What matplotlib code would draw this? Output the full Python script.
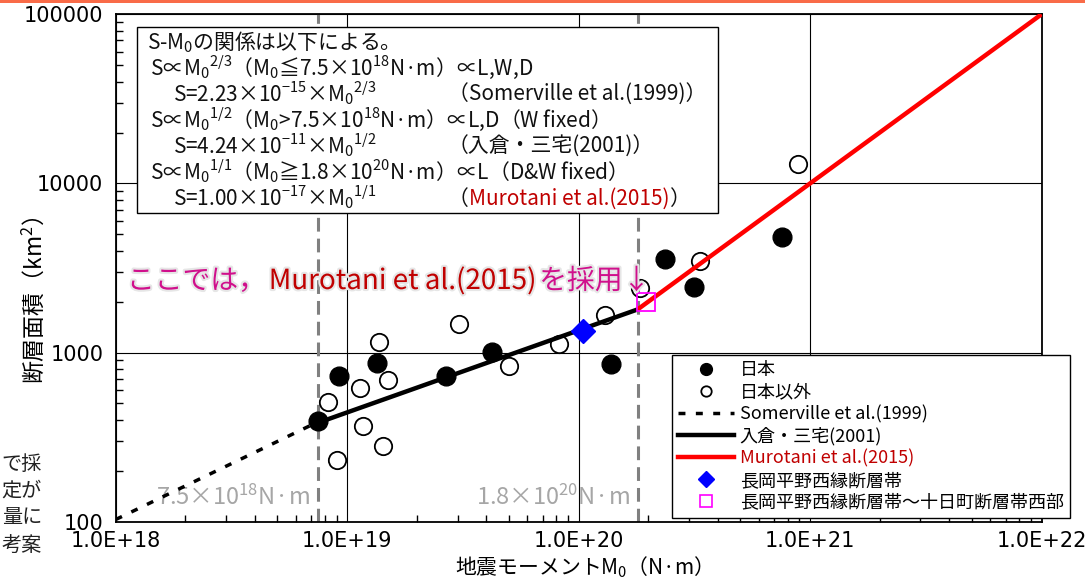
import matplotlib
matplotlib.use('Agg')
import matplotlib.pyplot as plt
from matplotlib.lines import Line2D
from matplotlib.patches import Rectangle
import matplotlib.patheffects as pe
from matplotlib.ticker import FixedLocator, FixedFormatter, LogLocator, NullFormatter

plt.rcParams['font.family'] = ['Noto Sans CJK JP', 'DejaVu Sans']
plt.rcParams['mathtext.fontset'] = 'custom'
plt.rcParams['mathtext.rm'] = 'Noto Sans CJK JP'
plt.rcParams['mathtext.it'] = 'Noto Sans CJK JP'
plt.rcParams['mathtext.bf'] = 'Noto Sans CJK JP:bold'
plt.rcParams['axes.unicode_minus'] = False

# ---------------- data ----------------
japan_m0 = [7.5e18, 9.2e18, 1.34e19, 2.67e19, 4.23e19, 1.38e20, 2.37e20, 3.16e20, 7.57e20]
japan_s = [395, 728, 871, 728, 1012, 853, 3574, 2432, 4843]

foreign_m0 = [8.3e18, 9.06e18, 1.137e19, 1.167e19, 1.377e19, 1.426e19, 1.507e19,
              3.05e19, 4.99e19, 8.2e19, 1.303e20, 1.84e20, 3.33e20, 8.85e20]
foreign_s = [513, 232, 615, 370, 1159, 281, 689, 1469, 837, 1120, 1667, 2421, 3492, 13000]

nagaoka_m0 = [1.04e20]
nagaoka_s = [1349]
nagaoka_tokamachi_m0 = [1.95e20]
nagaoka_tokamachi_s = [2000]

somerville_m0 = [1e18, 7.5e18]
somerville_s = [103, 390]
irikura_m0 = [7.5e18, 1.8e20]
irikura_s = [385, 1800]
murotani_m0 = [1.8e20, 1e22]
murotani_s = [1800, 1e5]

threshold_m0 = [7.5e18, 1.8e20]
threshold_labels = ['7.5×10$^{18}$N·m', '1.8×10$^{20}$N·m']

xtick_vals = [1e18, 1e19, 1e20, 1e21, 1e22]
xtick_labels = ['1.0E+18', '1.0E+19', '1.0E+20', '1.0E+21', '1.0E+22']
ytick_vals = [100, 1000, 10000, 100000]
ytick_labels = ['100', '1000', '10000', '100000']

legend_labels = ['日本', '日本以外', 'Somerville et al.(1999)', '入倉・三宅(2001)',
                 'Murotani et al.(2015)', '長岡平野西縁断層帯', '長岡平野西縁断層帯～十日町断層帯西部']

# ---------------- figure ----------------
W, H = 1085, 579
DPI = 100
fig = plt.figure(figsize=(W / DPI, H / DPI), dpi=DPI)
fig.patch.set_facecolor('white')

ax_l, ax_r, ax_t, ax_b = 115.7, 1041.5, 14.3, 521.7
ax = fig.add_axes([ax_l / W, 1 - ax_b / H, (ax_r - ax_l) / W, (ax_b - ax_t) / H])
ax.set_xscale('log')
ax.set_yscale('log')
ax.set_xlim(1e18, 1e22)
ax.set_ylim(100, 1e5)

ax.grid(True, which='major', color='black', lw=0.8)
ax.set_axisbelow(True)
for sp in ax.spines.values():
    sp.set_linewidth(1.3)
    sp.set_color('black')

ax.xaxis.set_major_locator(FixedLocator(xtick_vals))
ax.xaxis.set_major_formatter(FixedFormatter(xtick_labels))
ax.yaxis.set_major_locator(FixedLocator(ytick_vals))
ax.yaxis.set_major_formatter(FixedFormatter(ytick_labels))
ax.xaxis.set_minor_locator(LogLocator(base=10, subs=range(2, 10), numticks=100))
ax.yaxis.set_minor_locator(LogLocator(base=10, subs=range(2, 10), numticks=100))
ax.xaxis.set_minor_formatter(NullFormatter())
ax.yaxis.set_minor_formatter(NullFormatter())
ax.tick_params(which='minor', direction='in', length=5, width=1, top=False, right=False)
ax.tick_params(which='major', direction='in', length=0)
ax.tick_params(axis='x', which='major', pad=7, labelsize=15)
ax.tick_params(axis='y', which='major', pad=9, labelsize=15)
for lab in ax.get_xticklabels() + ax.get_yticklabels():
    lab.set_fontfamily('DejaVu Sans')

# threshold lines
for xv in threshold_m0:
    ax.axvline(xv, color='#808080', lw=2.2, ls=(0, (4.5, 2.3)), zorder=2)

# model lines
ax.plot(somerville_m0, somerville_s, color='black', lw=2.5, ls=(0, (2, 3)), zorder=4)
ax.plot(irikura_m0, irikura_s, color='black', lw=3.2, zorder=4, solid_capstyle='butt')
ax.plot(murotani_m0, murotani_s, color='#FF0000', lw=3.2, zorder=4, solid_capstyle='butt')

# points
ax.plot(foreign_m0, foreign_s, ls='none', marker='o', ms=12.5, mfc='none', mec='black', mew=1.3, zorder=3)
ax.plot(japan_m0, japan_s, ls='none', marker='o', ms=13.5, mfc='black', mec='black', zorder=3)
ax.plot(nagaoka_m0, nagaoka_s, ls='none', marker='D', ms=12, mfc='#0000FF', mec='#0000FF', zorder=5)
ax.plot(nagaoka_tokamachi_m0, nagaoka_tokamachi_s, ls='none', marker='s', ms=13, mfc='none',
        mec='#FF00FF', mew=1.3, zorder=5)

# threshold labels
for xv, lab in zip(threshold_m0, threshold_labels):
    ax.annotate(lab, xy=(xv, 100), xycoords='data', xytext=(-8, 24), textcoords='offset pixels',
                ha='right', va='center', color='#A6A6A6', fontsize=17, zorder=3)

# ---------------- helpers ----------------
renderer = fig.canvas.get_renderer()


def seg_text(x, y, segments, size, gap=0, effects=None):
    cur = x
    for s, c in segments:
        t = fig.text(cur / W, 1 - y / H, s, color=c, fontsize=size, ha='left',
                     va='baseline', zorder=6)
        if effects is not None:
            t.set_path_effects(effects)
        bb = t.get_window_extent(renderer=renderer)
        cur += bb.width + gap


# top orange strip
fig.patches.append(Rectangle((0, 1 - 3 / H), 1, 3 / H, transform=fig.transFigure,
                             facecolor='#F96B48', edgecolor='none', zorder=1))

# text box
box_x0, box_y0, box_x1, box_y1 = 137, 27, 718, 213
fig.patches.append(Rectangle((box_x0 / W, 1 - box_y1 / H), (box_x1 - box_x0) / W, (box_y1 - box_y0) / H,
                             transform=fig.transFigure, facecolor='white', edgecolor='black',
                             lw=1.0, zorder=5))

fs_box = 15
base = [49, 75, 101, 127, 153, 179, 205]
black = '#111111'
dred = '#C00000'
seg_text(147, base[0], [('S-M$_0$の関係は以下による。', black)], fs_box)
seg_text(150, base[1], [('S∝M$_0$$^{2/3}$（M$_0$≦7.5×10$^{18}$N·m）∝L,W,D', black)], fs_box)
seg_text(173, base[2], [('S=2.23×10$^{-15}$×M$_0$$^{2/3}$', black)], fs_box)
seg_text(448, base[2], [('（Somerville et al.(1999)）', black)], fs_box)
seg_text(150, base[3], [('S∝M$_0$$^{1/2}$（M$_0$>7.5×10$^{18}$N·m）∝L,D（W fixed）', black)], fs_box)
seg_text(173, base[4], [('S=4.24×10$^{-11}$×M$_0$$^{1/2}$', black)], fs_box)
seg_text(448, base[4], [('（入倉・三宅(2001)）', black)], fs_box)
seg_text(150, base[5], [('S∝M$_0$$^{1/1}$（M$_0$≧1.8×10$^{20}$N·m）∝L（D&W fixed）', black)], fs_box)
seg_text(173, base[6], [('S=1.00×10$^{-17}$×M$_0$$^{1/1}$', black)], fs_box)
seg_text(448, base[6], [('（', black), ('Murotani et al.(2015)', dred), ('）', black)], fs_box)

# annotation
mag = '#D0108C'
glow = [pe.withStroke(linewidth=3, foreground='#E6E6E6')]
seg_text(127, 289, [('ここでは，', mag), ('Murotani et al.(2015)', dred), ('を採用↓', mag)], 20,
         gap=3, effects=glow)

# legend
handles = [
    Line2D([], [], ls='none', marker='o', ms=8.5, mfc='black', mec='black'),
    Line2D([], [], ls='none', marker='o', ms=7.5, mfc='white', mec='black', mew=1.3),
    Line2D([], [], color='black', lw=2.5, ls=(0, (2, 3))),
    Line2D([], [], color='black', lw=3.2),
    Line2D([], [], color='#FF0000', lw=3.2),
    Line2D([], [], ls='none', marker='D', ms=8, mfc='#0000FF', mec='#0000FF'),
    Line2D([], [], ls='none', marker='s', ms=8, mfc='none', mec='#FF00FF', mew=1.2),
]
leg = fig.legend(handles, legend_labels, loc='lower right', bbox_to_anchor=(1070 / W, 1 - 518 / H),
                 fontsize=13, frameon=True, fancybox=False, edgecolor='black', framealpha=1,
                 handlelength=3.1, handletextpad=0.3, labelspacing=0.22, borderpad=0.35,
                 borderaxespad=0)
leg.get_frame().set_linewidth(1.0)
leg.get_texts()[4].set_color(dred)
leg.set_zorder(6)

# axis labels
fig.text(33 / W, 1 - 300 / H, '断層面積（km$^2$）', rotation=90, ha='center', va='center', fontsize=16.5)
fig.text(578 / W, 1 - 574 / H, '地震モーメントM$_0$（N·m）', ha='center', va='baseline', fontsize=15)

# cut-off slide text on the left
left_texts = ['で採', '定が', '量に', '考案']
left_y = [464, 491, 518, 546]
for s, yv in zip(left_texts, left_y):
    fig.text(42 / W, 1 - yv / H, s, ha='right', va='center', fontsize=14.5, color='#222222')

fig.savefig('out.png', dpi=DPI)
